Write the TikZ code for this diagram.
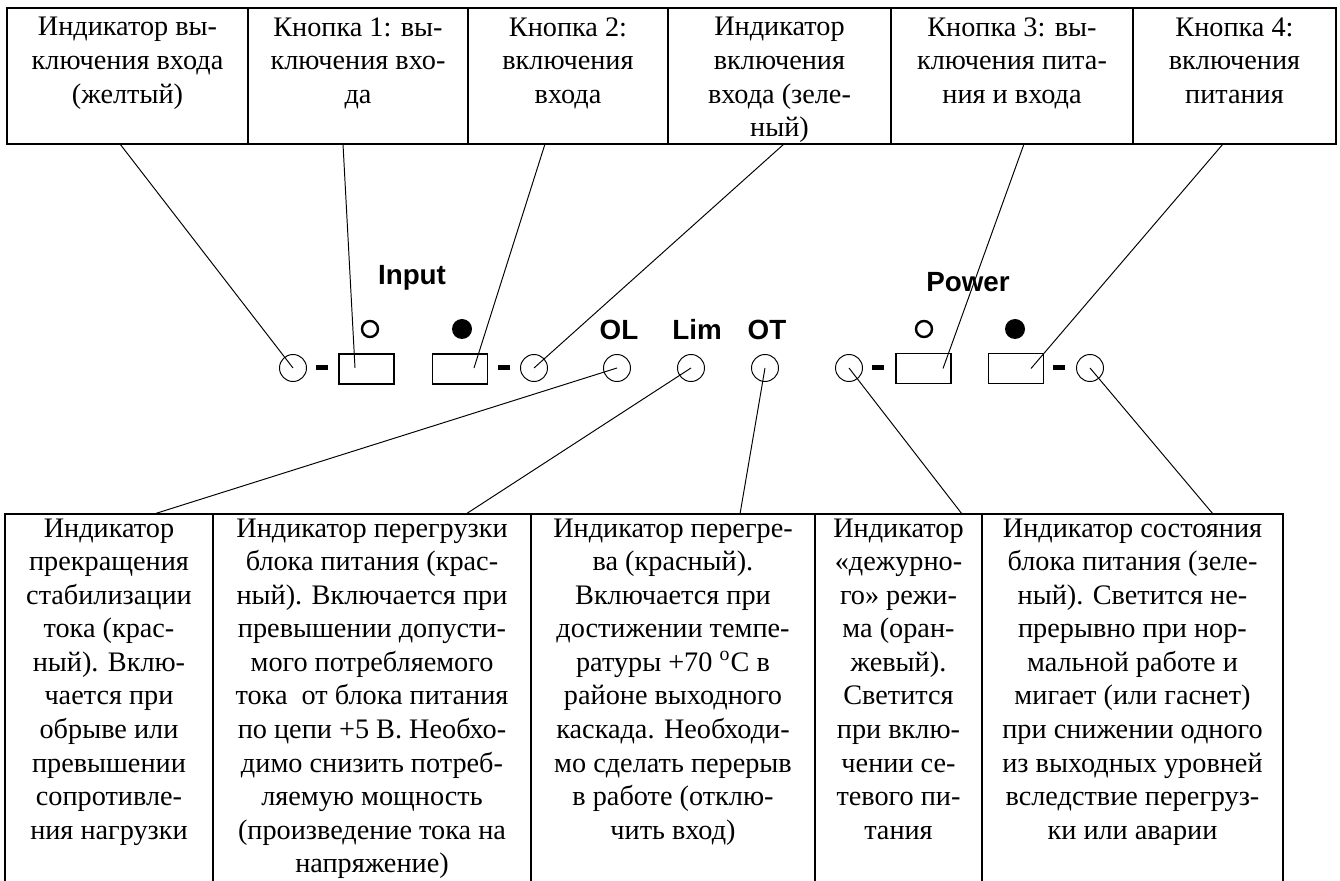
\documentclass[tikz,border=0pt]{standalone}
\usepackage{fontspec}
\setmainfont{Liberation Serif}
\newfontfamily\labelfont{Liberation Sans}
\usetikzlibrary{calc}
\tikzset{
  boxline/.style={line width=0.8pt},
  topbox/.style={draw, line width=0.8pt, rectangle, inner sep=0pt, outer sep=0pt, minimum height=136*0.414pt},
  botbox/.style={rectangle, inner sep=0pt, outer sep=0pt, minimum height=367*0.414pt},
  boxtext/.style={anchor=north, align=center, inner sep=0pt, outer sep=0pt, font=\fontsize{11.7}{13.9}\selectfont, execute at begin node=\strut},
  led/.style={draw, circle, line width=0.4pt, minimum size=27*0.414pt, inner sep=0pt, outer sep=0pt},
  button/.style={draw, rectangle, line width=0.8pt, minimum width=55*0.414pt, minimum height=30*0.414pt, inner sep=0pt, outer sep=0pt},
  bar/.style={fill=black, rectangle, minimum width=12*0.414pt, minimum height=5*0.414pt, inner sep=0pt, outer sep=0pt},
  offsym/.style={draw, circle, line width=1pt, minimum size=16*0.414pt, inner sep=0pt, outer sep=0pt},
  onsym/.style={fill=black, circle, minimum size=20*0.414pt, inner sep=0pt, outer sep=0pt},
  panellabel/.style={font=\labelfont\bfseries\fontsize{11.5}{13}\selectfont, anchor=base, inner sep=0pt},
  conn/.style={line width=0.4pt},
}
\begin{document}
\begin{tikzpicture}[x=0.414pt,y=-0.414pt]
\fill[white] (0,0) rectangle (1340,881);
\useasboundingbox (0,0) rectangle (1340,881);

% ---- top boxes ----
\node[topbox, minimum width=241*0.414pt] (t1) at (127.5,76) {};
\node[topbox, minimum width=220*0.414pt] (t2) at (358,76) {};
\node[topbox, minimum width=200*0.414pt] (t3) at (568,76) {};
\node[topbox, minimum width=223*0.414pt] (t4) at (779.5,76) {};
\node[topbox, minimum width=242*0.414pt] (t5) at (1012,76) {};
\node[topbox, minimum width=203*0.414pt] (t6) at (1234.5,76) {};

\node[boxtext] (t1x) at (127.5,17.5) {Индикатор вы-\\ключения входа\\(желтый)};
\node[boxtext] (t2x) at (358,17.5) {Кнопка 1: вы-\\ключения вхо-\\да};
\node[boxtext] (t3x) at (568,17.5) {Кнопка 2:\\включения\\входа};
\node[boxtext] (t4x) at (779.5,17.5) {Индикатор\\включения\\входа (зеле-\\ный)};
\node[boxtext] (t5x) at (1012,17.5) {Кнопка 3: вы-\\ключения пита-\\ния и входа};
\node[boxtext] (t6x) at (1234.5,17.5) {Кнопка 4:\\включения\\питания};

% ---- bottom boxes ----
\node[botbox, minimum width=208*0.414pt] (b1) at (109,697.5) {};
\node[botbox, minimum width=318*0.414pt] (b2) at (372,697.5) {};
\node[botbox, minimum width=284*0.414pt] (b3) at (673,697.5) {};
\node[botbox, minimum width=167*0.414pt] (b4) at (898.5,697.5) {};
\node[botbox, minimum width=301*0.414pt] (b5) at (1132.5,697.5) {};
\foreach \b in {b1,b2,b3,b4,b5}{
  \draw[boxline] (\b.south west) -- (\b.north west) -- (\b.north east) -- (\b.south east);
}

\node[boxtext] (b1x) at (109,518.5) {Индикатор\\прекращения\\стабилизации\\тока (крас-\\ный). Вклю-\\чается при\\обрыве или\\превышении\\сопротивле-\\ния нагрузки};
\node[boxtext] (b2x) at (372,518.5) {Индикатор перегрузки\\блока питания (крас-\\ный). Включается при\\превышении допусти-\\мого потребляемого\\тока\ \ от блока питания\\по цепи +5 В. Необхо-\\димо снизить потреб-\\ляемую мощность\\(произведение тока на\\напряжение)};
\node[boxtext] (b3x) at (673,518.5) {Индикатор перегре-\\ва (красный).\\Включается при\\достижении темпе-\\ратуры +70 \textsuperscript{o}C в\\районе выходного\\каскада. Необходи-\\мо сделать перерыв\\в работе (отклю-\\чить вход)};
\node[boxtext] (b4x) at (898.5,518.5) {Индикатор\\«дежурно-\\го» режи-\\ма (оран-\\жевый).\\Светится\\при вклю-\\чении се-\\тевого пи-\\тания};
\node[boxtext] (b5x) at (1132.5,518.5) {Индикатор состояния\\блока питания (зеле-\\ный). Светится не-\\прерывно при нор-\\мальной работе и\\мигает (или гаснет)\\при снижении одного\\из выходных уровней\\вследствие перегруз-\\ки или аварии};

% ---- panel ----
\node[panellabel] (inlbl) at (412,285) {Input};
\node[panellabel] (pwlbl) at (968,292) {Power};
\node[panellabel] (ollbl) at (619,340) {OL};
\node[panellabel] (limlbl) at (697,340) {Lim};
\node[panellabel] (otlbl) at (767,340) {OT};

\node[led] (c1) at (293,368) {};
\node[bar] (d1) at (321.5,368) {};
\node[button] (r1) at (366.5,369) {};
\node[offsym] (s1) at (370,329) {};
\node[onsym] (f1) at (462,329) {};
\node[button] (r2) at (460,369) {};
\node[bar] (d2) at (503.5,368) {};
\node[led] (c2) at (534,368) {};
\node[led] (ol) at (617,368) {};
\node[led] (lim) at (691,368) {};
\node[led] (ot) at (765,368) {};
\node[led] (c3) at (849,368) {};
\node[bar] (d3) at (878,368) {};
\node[button] (r3) at (923.5,368.5) {};
\node[offsym] (s2) at (924,329) {};
\node[onsym] (f2) at (1015,329) {};
\node[button] (r4) at (1016,368.5) {};
\node[bar] (d4) at (1059,368) {};
\node[led] (c4) at (1090,368) {};

% ---- connectors from top boxes ----
\draw[conn] ($(t1.south west)+(113,0)$) -- (c1.center);
\draw[conn] ($(t2.south west)+(95,0)$) -- ($(r1.center)+(-11.5,-1)$);
\draw[conn] ($(t3.south west)+(77,0)$) -- ($(r2.center)+(14,-1)$);
\draw[conn] ($(t4.south west)+(116,0)$) -- (c2.center);
\draw[conn] ($(t5.south west)+(133,0)$) -- ($(r3.center)+(19.5,0)$);
\draw[conn] ($(t6.south west)+(90,0)$) -- ($(r4.center)+(15,0)$);

% ---- connectors to bottom boxes ----
\draw[conn] (ol.center) -- ($(b1.north west)+(149,0)$);
\draw[conn] (lim.center) -- ($(b2.north west)+(253,0)$);
\draw[conn] (ot.center) -- ($(b3.north west)+(209,0)$);
\draw[conn] (c3.center) -- ($(b4.north west)+(147,0)$);
\draw[conn] (c4.center) -- ($(b5.north west)+(231,0)$);
\end{tikzpicture}
\end{document}
